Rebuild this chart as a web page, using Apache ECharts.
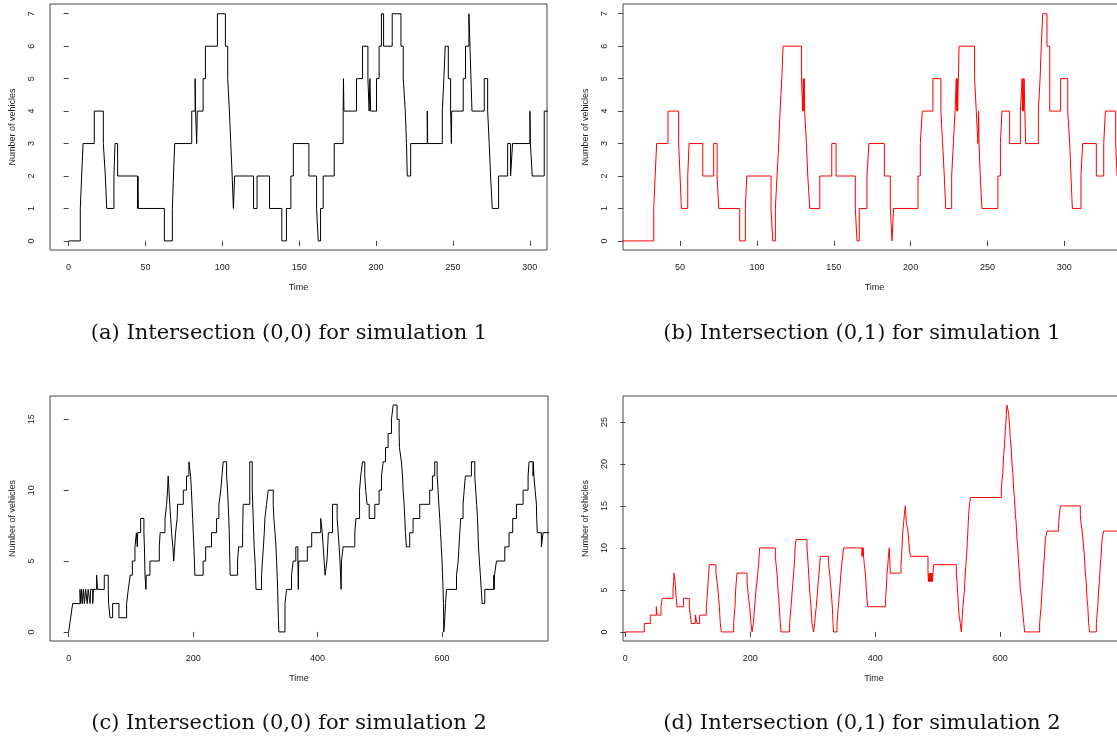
<!DOCTYPE html>
<html>
<head>
<meta charset="utf-8">
<script src="https://cdn.jsdelivr.net/npm/echarts@6/dist/echarts.min.js"></script>
<style>
  html, body { margin: 0; padding: 0; overflow: hidden; background: #fff; }
  #main { width: 1140px; height: 740px; }
</style>
</head>
<body>
<div id="main"></div>
<script>
// step data: [time, number of vehicles], value holds until next time
const stepsA = [[0,0],[7.6,1],[8.5,2],[9.4,3],[16.7,4],[22.6,3],[23.9,2],[24.8,1],[29.5,2],[30.2,3],[31.9,2],[44.8,1],[45.1,2],[45.4,1],[62.3,0],[67.5,1],[68.2,2],[69,3],[80.1,4],[82.3,5],[82.6,4],[83.3,3],[83.7,4],[87.5,5],[89,6],[96.8,7],[102,6],[103.5,5],[104.6,4],[105.5,3],[106.4,2],[107.2,1],[108,2],[120.3,1],[122.6,2],[130.7,1],[138.7,0],[141.7,1],[144.6,2],[146.2,3],[156.3,2],[161.3,1],[162.4,0],[163.9,1],[165.6,2],[172.8,3],[178.6,4],[178.8,5],[179.1,4],[187.3,5],[191.2,6],[194.7,5],[195.5,4],[196,5],[196.5,4],[200.3,5],[202,6],[203.5,7],[204.9,6],[210.5,7],[216.2,6],[217.7,5],[219,4],[219.8,3],[220.3,2],[222.5,3],[233.3,4],[233.6,3],[243.1,4],[244.1,5],[245,6],[247,5],[248.5,4],[249,3],[249.2,4],[256.7,5],[258.2,6],[260.4,7],[261.1,6],[262.4,4],[270.4,5],[272.6,4],[273.6,3],[274.5,2],[275.6,1],[279.7,2],[285.6,3],[287.5,2],[288.8,3],[300.1,4],[300.4,3],[301.6,2],[309.4,4],[313,4]];

const stepsB = [[12,0],[32.9,1],[33.8,2],[34.8,3],[42.2,4],[49.1,3],[50,2],[50.9,1],[55,2],[55.9,3],[64.8,2],[71.9,3],[74.1,2],[75.2,1],[88.8,0],[92.5,1],[93.4,2],[109.2,1],[110.3,0],[112,1],[113.1,2],[114.2,3],[115.1,4],[116.2,5],[117,6],[129,5],[129.8,4],[130.2,5],[130.5,4],[130.8,5],[131.1,4],[132.2,3],[133.1,2],[134.4,1],[140.9,2],[148.7,3],[151.5,2],[164,1],[165.1,0],[166.6,1],[171.6,2],[172.9,3],[182.9,2],[186.8,1],[187.9,0],[188.9,1],[204.8,2],[206.3,3],[207.6,4],[214.5,5],[219.7,4],[220.8,3],[221.9,2],[222.8,1],[226.7,2],[227.8,3],[228.9,4],[229.7,5],[230,4],[230.3,5],[230.6,4],[231.5,6],[241.6,5],[242.7,4],[243.8,3],[244.2,4],[244.5,3],[245.3,2],[246.4,1],[256.8,2],[258.4,3],[259.4,4],[264.4,3],[271.4,4],[272.5,5],[272.8,4],[273.1,5],[273.5,4],[273.8,5],[274.8,3],[283.1,4],[284.2,5],[285,6],[285.9,7],[288.7,6],[290.5,4],[297.6,5],[302.2,4],[303.5,3],[304.3,2],[305.2,1],[310.8,2],[311.9,3],[320.8,2],[325.6,3],[326.7,4],[333.4,3],[334.3,2],[342,2]];

const stepsC = [[0,0],[3.2,1],[6.4,2],[18.2,3],[19.4,2],[20.9,3],[22,2],[23.8,3],[25.3,2],[27.3,3],[29.8,2],[31.3,3],[34.3,2],[35.3,3],[38.7,2],[39.7,3],[44.9,4],[46.2,3],[57.2,4],[63.6,3],[64.2,2],[66.4,1],[70.6,2],[80.8,1],[93.1,2],[95.8,3],[98.9,4],[102.3,5],[106.5,6],[108.8,7],[110.3,6],[110.8,7],[115.6,8],[120.9,7],[121.7,6],[122.2,5],[122.6,4],[124.2,3],[124.7,4],[130.6,5],[145.6,6],[147,7],[154.8,8],[157.4,9],[158.9,10],[159.9,11],[162.4,9],[163.9,8],[165.4,7],[167.4,6],[168.8,5],[170.3,6],[171.8,7],[174.3,8],[175,9],[184.2,10],[189.4,11],[193.2,12],[195.9,11],[197.2,10],[198.2,9],[199.2,8],[200.2,7],[201.2,6],[202,5],[202.8,4],[216.1,5],[220.1,6],[229.5,7],[237.7,8],[241.4,9],[244.4,10],[246.3,11],[248.3,12],[253.8,11],[255.3,10],[256.3,9],[257.3,8],[258,7],[258.5,6],[259,5],[259.5,4],[271.4,5],[273.1,6],[279.5,7],[280.4,9],[291,12],[295,10],[296.5,8],[298,6],[299.5,5],[301,3],[309.9,4],[311.4,5],[312.9,6],[314.3,7],[315.3,8],[317.9,9],[320.6,10],[328.7,9],[329.7,8],[331.6,7],[333.1,6],[334.1,5],[335,4],[335.8,3],[336.4,2],[337,1],[337.7,0],[347.6,2],[350.1,3],[358.1,4],[360.8,5],[365,6],[368.3,5],[369,3],[369.6,5],[383.5,6],[390.5,7],[405,8],[407.5,7],[409,6],[410.5,5],[412,4],[415,5],[416.2,6],[417.3,7],[424,9],[431.4,8],[433,7],[434.6,6],[436,5],[437.8,3],[438.4,5],[441,6],[459.8,7],[461.6,8],[467.4,10],[469.3,11],[472.1,12],[475.8,11],[477.3,10],[479.5,9],[482.9,8],[491.9,9],[498.8,10],[502.6,11],[505.3,12],[509.1,13],[513.3,14],[518.7,15],[521.4,16],[527.7,15],[531,14],[531.5,13],[534.7,12],[536.4,11],[537.4,10],[539,9],[540.1,8],[541.1,7],[542.7,6],[548,7],[553.4,8],[564.1,9],[580.1,10],[584.5,11],[588.2,12],[592.1,11],[593.5,10],[594.8,9],[596.3,8],[597.5,7],[598.7,6],[599.9,5],[600.8,4],[601.6,3],[602.2,2],[602.5,1],[602.8,0],[604.4,1],[605.5,2],[607.1,3],[623.2,4],[625.9,5],[628.4,7],[630,8],[633.7,9],[635.5,10],[637.5,11],[647.2,12],[652.6,11],[654,10],[655.5,9],[657,8],[658.5,6],[660,5],[661.5,4],[663,3],[664.3,2],[668.6,3],[683.1,4],[683.6,3],[684.2,4],[687.4,5],[700.8,6],[707.6,7],[713.5,8],[719.5,9],[730.2,10],[738.2,11],[739.8,12],[746.2,11],[746.6,12],[747.5,11],[749.5,10],[751.6,9],[752,8],[753,7],[759.6,6],[762.3,7],[772,7]];

const stepsD = [[0,0],[30.4,1],[40,2],[49.6,3],[50.7,2],[57.1,3],[59.2,4],[76.3,5],[77.4,6],[77.9,7],[79.5,6],[80.5,5],[81.6,4],[82.7,3],[93.3,4],[102.4,3],[104,2],[105.6,1],[112,2],[114.7,1],[118.9,2],[129.6,3],[130.7,4],[131.7,5],[132.5,6],[133.3,7],[134.4,8],[145,7],[146.7,6],[148.3,5],[149.4,4],[150.4,3],[151.2,2],[152,1],[153.6,0],[173.3,1],[174.4,2],[175.5,3],[176,4],[176.5,5],[177.6,6],[178.7,7],[194.7,6],[196,5],[197.3,4],[198.9,3],[200,2],[201.1,1],[202.7,0],[204.8,1],[205.8,2],[206.9,3],[208,4],[209.1,5],[210.7,6],[212,7],[213.3,8],[214,9],[214.9,10],[240,9],[241.3,8],[242.7,7],[243.5,6],[244.3,5],[245.4,4],[246.4,3],[247.2,2],[248,1],[249.1,0],[262.9,1],[264,2],[265.1,3],[266.1,4],[267.2,5],[268.2,6],[269.3,7],[270.4,8],[271,9],[271.5,10],[273.1,11],[290.7,10],[291.7,9],[292.5,8],[293.3,7],[294.1,6],[294.9,5],[296,4],[297.1,3],[297.9,2],[298.7,1],[301.3,0],[302.9,1],[304,2],[305.6,3],[306.6,4],[307.7,5],[308.8,6],[309.9,7],[311,8],[312,9],[325.3,8],[326.9,7],[328,6],[329.1,5],[330.2,4],[331.2,3],[331.8,2],[332.3,1],[333.3,0],[338.7,1],[339.7,2],[340.8,3],[341.9,4],[343,5],[344,6],[345,7],[346.1,8],[347.7,9],[349.3,10],[378.7,9],[379.3,10],[380,9],[380.6,10],[381.2,9],[382.4,8],[384,7],[385,6],[385.6,5],[386.5,4],[387.7,3],[416.5,4],[417.5,5],[418.7,7],[420,8],[421,9],[422.4,10],[424,7],[441.1,8],[442,9],[442.7,10],[444,12],[445.3,13],[446.5,14],[448,15],[449.6,13],[452.3,12],[454.4,10],[456,9],[484.3,7],[485,6],[485.8,7],[486.6,6],[487.4,7],[488.2,6],[489,7],[489.8,6],[490.6,7],[491.4,6],[492.2,7],[493.3,8],[529.6,7],[530.7,6],[531.5,5],[532.3,4],[533.1,3],[534,2],[536,1],[537.6,0],[538.4,1],[539.2,2],[540.2,3],[541.3,4],[542.6,5],[543.3,6],[544,7],[545,8],[545.8,9],[546.7,10],[547.4,11],[548,12],[548.7,13],[549.3,14],[550.6,15],[552,16],[601.6,17],[602.7,18],[604,19],[605.3,21],[606.5,22],[608,24],[609,25],[609.6,26],[610.7,27],[613.3,26],[614.4,25],[615.2,24],[616,23],[617.4,22],[618.7,20],[620,19],[621.3,17],[622.7,16],[624,14],[625.4,13],[626.7,11],[628,10],[629.3,8],[630.6,7],[632,5],[634,4],[635,3],[636.3,2],[637.6,1],[638.9,0],[662.9,1],[664,2],[665.3,3],[666.7,5],[668,6],[669.3,8],[670.6,9],[672,11],[674.7,12],[693.3,13],[694.6,14],[696,15],[728,14],[729.1,13],[731,12],[733.3,10],[734.6,9],[736,7],[737.4,6],[738.7,4],[740,3],[741.3,1],[742.9,0],[753.6,1],[754.7,2],[756,3],[757.3,5],[758.6,6],[760,8],[761.3,9],[762.7,11],[765.3,12],[800,12]];

// tick labels
const xTicksSim1A = [0, 50, 100, 150, 200, 250, 300];
const xTicksSim1B = [50, 100, 150, 200, 250, 300];
const xTicksSim2 = [0, 200, 400, 600];
const yTicksSim1 = [0, 1, 2, 3, 4, 5, 6, 7];
const yTicksSim2C = [0, 5, 10, 15];
const yTicksSim2D = [0, 5, 10, 15, 20, 25];

const captions = [
  '(a) Intersection (0,0) for simulation 1',
  '(b) Intersection (0,1) for simulation 1',
  '(c) Intersection (0,0) for simulation 2',
  '(d) Intersection (0,1) for simulation 2'
];

const axisFont = { fontFamily: '"Liberation Sans", Arial, sans-serif', fontSize: 9, color: '#222' };

const panels = [
  { data: stepsA, color: '#000000', grid: { left: 50, top: 4, width: 497, height: 246 },
    xr: [-12.1, 311.2], xt: xTicksSim1A, yr: [-0.28, 7.3], yt: yTicksSim1 },
  { data: stepsB, color: '#ff0000', grid: { left: 623, top: 4, width: 503, height: 246 },
    xr: [12.9, 340.1], xt: xTicksSim1B, yr: [-0.28, 7.3], yt: yTicksSim1 },
  { data: stepsC, color: '#000000', grid: { left: 50, top: 396, width: 498, height: 245 },
    xr: [-30, 770.2], xt: xTicksSim2, yr: [-0.64, 16.64], yt: yTicksSim2C },
  { data: stepsD, color: '#ff0000', grid: { left: 623, top: 396, width: 502, height: 245 },
    xr: [-3.7, 799.5], xt: xTicksSim2, yr: [-1.08, 28.08], yt: yTicksSim2D }
];

const myChart = echarts.init(document.getElementById('main'), null, { renderer: 'canvas' });

const option = {
  animation: false,
  backgroundColor: '#fff',
  grid: panels.map(p => Object.assign({ show: true, borderColor: '#444', borderWidth: 1,
    backgroundColor: 'transparent', containLabel: false }, p.grid)),
  xAxis: panels.map((p, i) => ({
    type: 'value', gridIndex: i, min: p.xr[0], max: p.xr[1],
    name: 'Time', nameLocation: 'middle', nameGap: 33, nameTextStyle: axisFont,
    axisLine: { show: false },
    axisTick: { show: true, inside: false, length: 5, customValues: p.xt, lineStyle: { color: '#444' } },
    axisLabel: Object.assign({ margin: 13, customValues: p.xt }, axisFont),
    splitLine: { show: false }
  })),
  yAxis: panels.map((p, i) => ({
    type: 'value', gridIndex: i, min: p.yr[0], max: p.yr[1],
    name: 'Number of vehicles', nameLocation: 'middle', nameGap: 33, nameRotate: 90,
    nameTextStyle: axisFont,
    axisLine: { show: false },
    axisTick: { show: true, inside: false, length: 5, customValues: p.yt, lineStyle: { color: '#444' } },
    axisLabel: Object.assign({ margin: 14, rotate: 90, customValues: p.yt }, axisFont),
    splitLine: { show: false }
  })),
  series: panels.map((p, i) => ({
    type: 'line', step: 'end', data: p.data, xAxisIndex: i, yAxisIndex: i,
    symbol: 'none', showSymbol: false, clip: true, silent: true,
    lineStyle: { color: p.color, width: 1 }, itemStyle: { color: p.color }
  })),
  graphic: [
    [289, 334], [862, 334], [289, 724], [862, 724]
  ].map((pos, i) => ({
    type: 'text', x: pos[0], y: pos[1], silent: true,
    style: { text: captions[i], font: '21px "DejaVu Serif", serif', fill: '#111',
      textAlign: 'center', textVerticalAlign: 'middle' }
  }))
};

myChart.setOption(option);
</script>
</body>
</html>
